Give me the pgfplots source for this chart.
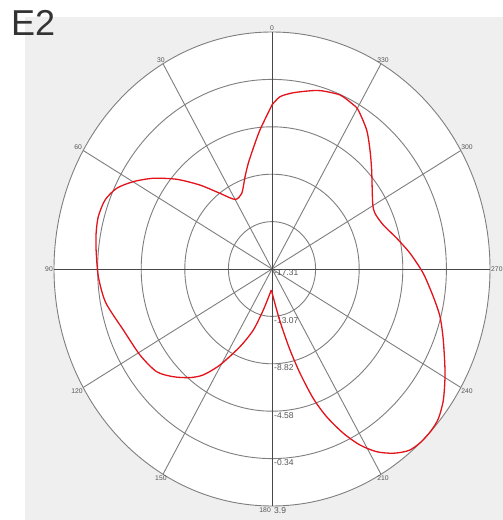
\documentclass[border=0pt]{standalone}
\usepackage{pgfplots}
\pgfplotsset{compat=1.18}
\usepackage{pgfplotstable}
\usepackage{fontspec}
\setmainfont{Liberation Sans}
\definecolor{bg}{HTML}{EFEFEF}
\definecolor{gridc}{HTML}{7E7E7E}
\definecolor{axc}{HTML}{474747}
\definecolor{lab}{HTML}{555555}
\definecolor{curve}{HTML}{E3131B}
\pgfplotstableread{
ang db
0 -2.63
5.4 -4.82
10.0 -6.49
13.7 -7.57
17.6 -8.64
23.5 -9.93
30.0 -10.12
36.75 -8.86
43.0 -7.04
49.1 -5.05
54.9 -3.19
59.9 -1.72
64.45 -0.56
69.2 0.07
74.5 0.23
79.4 0.10
84.3 -0.11
92.3 -0.40
100.5 -0.85
110.7 -1.85
121.0 -2.34
129.3 -2.80
135.1 -3.70
140.6 -4.73
144.8 -5.71
149.5 -7.34
155.9 -9.70
161.6 -11.56
167.0 -13.54
178.0 -15.43
}\mydataA
\pgfplotstableread{
ang db
178.0 -15.43
187.1 -13.61
190.4 -12.06
193.6 -9.85
196.3 -7.58
199.1 -5.06
201.9 -3.06
205.3 -1.04
208.5 0.61
211.9 1.95
215.6 2.97
219.4 3.70
223.1 3.90
226.9 3.88
230.4 3.70
234.9 3.07
241.0 1.94
249.1 0.53
255.4 -0.42
261.0 -1.42
268.5 -2.59
276.0 -3.81
282.8 -4.87
290.0 -5.79
296.4 -6.12
301.0 -5.88
312.4 -4.18
318.2 -3.01
323.5 -1.83
329.5 -0.79
332.4 -0.58
337.0 -0.39
343.1 -0.64
346.4 -0.89
352.5 -1.40
357.1 -1.87
360 -2.63
}\mydataB
\begin{document}
\begin{tikzpicture}
\begin{axis}[
  width=503pt, height=520pt, scale only axis,
  xmin=0, xmax=503, ymin=0, ymax=520,
  axis lines=none, clip=false,
]
% background
\fill[bg] (axis cs:25,0) rectangle (axis cs:503,503);
\fill[white] (axis cs:272,251) ellipse [x radius=218pt, y radius=237pt];
% rings
\pgfplotsinvokeforeach{1,2,3,4,5}{
  \draw[gridc, line width=0.9pt] (axis cs:272,251) ellipse [x radius={218pt*#1/5}, y radius={237pt*#1/5}];
}
% spokes
\pgfplotsinvokeforeach{30,60,120,150,210,240,300,330}{
  \draw[gridc, line width=0.9pt] (axis cs:272,251) -- (axis cs:{272-218*sin(#1)},{251+237*cos(#1)});
}
\draw[axc, line width=0.9pt] (axis cs:54,251) -- (axis cs:490,251);
\draw[axc, line width=0.9pt] (axis cs:272,14) -- (axis cs:272,488);
% angle labels
\pgfplotsinvokeforeach{0,30,60,90,120,150,210,240,270,300,330}{
  \node[lab, font=\fontsize{6.8}{7}\selectfont, inner sep=1pt, anchor={270+#1}] at (axis cs:{272-218*sin(#1)},{251+237*cos(#1)}) {#1};
}
\node[lab, font=\fontsize{6.8}{7}\selectfont, inner sep=1pt, anchor=north east] at (axis cs:272,13) {180};
% ring labels
\node[lab, font=\fontsize{8.5}{9}\selectfont, inner sep=1pt, anchor=north west] at (axis cs:273,252) {-17.31};
\node[lab, font=\fontsize{8.5}{9}\selectfont, inner sep=1pt, anchor=north west] at (axis cs:273,204) {-13.07};
\node[lab, font=\fontsize{8.5}{9}\selectfont, inner sep=1pt, anchor=north west] at (axis cs:273,156.5) {-8.82};
\node[lab, font=\fontsize{8.5}{9}\selectfont, inner sep=1pt, anchor=north west] at (axis cs:273,109) {-4.58};
\node[lab, font=\fontsize{8.5}{9}\selectfont, inner sep=1pt, anchor=north west] at (axis cs:273,61.5) {-0.34};
\node[lab, font=\fontsize{8.5}{9}\selectfont, inner sep=1pt, anchor=north west] at (axis cs:273,14) {3.9};
% title
\node[anchor=north west, inner sep=0pt, text=black!80, font=\fontsize{36}{38}\selectfont] at (axis cs:11,510) {E2};
% data
\addplot[curve, line width=1.3pt, no markers, smooth, tension=0.45] table[
  x expr={272-218*(\thisrow{db}+17.31)/21.21*sin(\thisrow{ang})},
  y expr={251+237*(\thisrow{db}+17.31)/21.21*cos(\thisrow{ang})}
] {\mydataA};
\addplot[curve, line width=1.3pt, no markers, smooth, tension=0.45] table[
  x expr={272-218*(\thisrow{db}+17.31)/21.21*sin(\thisrow{ang})},
  y expr={251+237*(\thisrow{db}+17.31)/21.21*cos(\thisrow{ang})}
] {\mydataB};
\end{axis}
\pgfresetboundingbox
\path[use as bounding box] (0,0) rectangle (503pt,520pt);
\end{tikzpicture}
\end{document}
